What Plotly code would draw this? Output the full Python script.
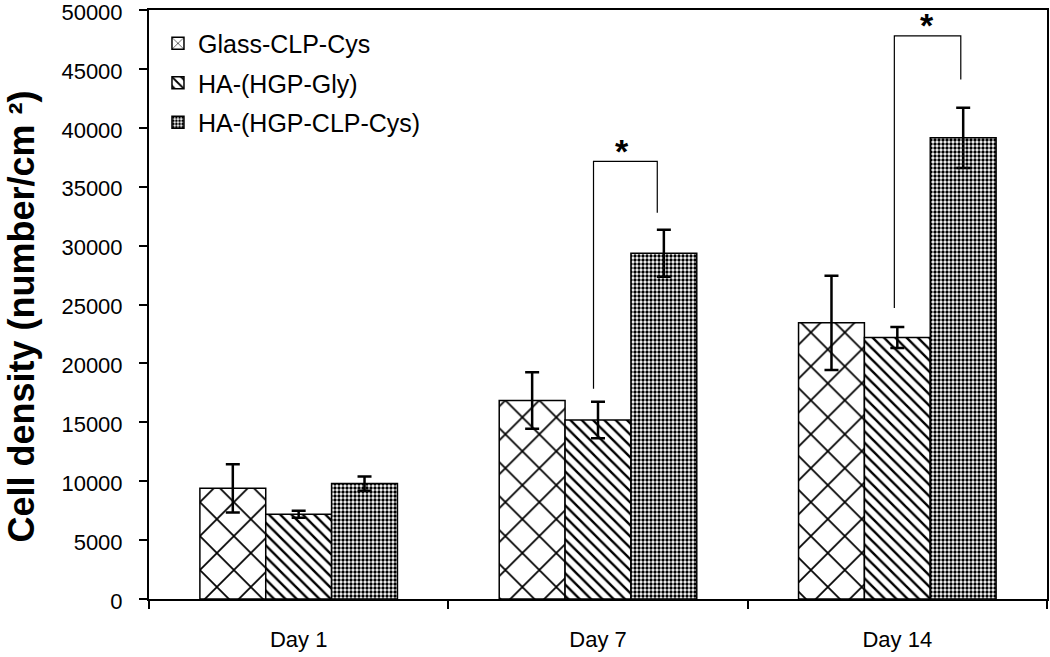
import plotly.graph_objects as go

categories = ["Day 1", "Day 7", "Day 14"]
series_names = ["Glass-CLP-Cys", "HA-(HGP-Gly)", "HA-(HGP-CLP-Cys)"]
glass_vals = [9400, 16850, 23450]
glass_err = [2050, 2400, 4000]
gly_vals = [7200, 15200, 22200]
gly_err = [300, 1550, 900]
clp_vals = [9800, 29350, 39150]
clp_err = [600, 2000, 2550]
y_ticks = [0, 5000, 10000, 15000, 20000, 25000, 30000, 35000, 40000, 45000, 50000]

# significance brackets: (x_left, x_right, y_left_bottom, y_top, y_right_bottom, star_x, star_y)
brackets = [
    (0.985, 1.198, 17850, 37150, 32800, 1.08, 38000),
    (1.990, 2.212, 24700, 47800, 44100, 2.10, 48700),
]

patterns = [
    dict(shape="x", size=24, solidity=0.14, fgcolor="black", bgcolor="white", fgopacity=1),
    dict(shape="\\", size=8, solidity=0.3, fgcolor="black", bgcolor="white", fgopacity=1),
    dict(shape=".", size=4, solidity=0.55, fgcolor="black", bgcolor="white", fgopacity=1),
]

fig = go.Figure()
for i, (name, vals, errs) in enumerate(zip(series_names,
                                           [glass_vals, gly_vals, clp_vals],
                                           [glass_err, gly_err, clp_err])):
    fig.add_trace(go.Bar(
        x=categories, y=vals, name=name,
        legendgroup=f"g{i}",
        marker=dict(color="white", line=dict(color="black", width=1.5),
                    pattern=patterns[i]),
        error_y=dict(type="data", array=errs, color="black", thickness=2.5, width=7),
    ))

for (xl, xr, yl, yt, yr, sx, sy) in brackets:
    fig.add_shape(type="path",
                  path=f"M {xl} {yl} L {xl} {yt} L {xr} {yt} L {xr} {yr}",
                  xref="x", yref="y", line=dict(color="black", width=1.2))
    fig.add_annotation(x=sx, y=sy, xref="x", yref="y", text="<b>*</b>",
                       showarrow=False, font=dict(size=34, color="black",
                                                  family="Liberation Sans"),
                       yanchor="middle")

fig.add_annotation(x=0, y=0.5, xref="paper", yref="paper", xanchor="center",
                   yanchor="middle", xshift=-128, yshift=-12, textangle=-90,
                   text="<b>Cell density (number/cm ²)</b>", showarrow=False,
                   font=dict(size=36, color="black", family="Liberation Sans"))

fig.update_layout(
    width=1050, height=657,
    margin=dict(l=149, r=3, t=10, b=58),
    paper_bgcolor="white", plot_bgcolor="white",
    barmode="group", bargap=0.34, bargroupgap=0,
    font=dict(family="Liberation Sans", color="black"),
    legend=dict(x=0.01, y=0.982, xanchor="left", yanchor="top",
                font=dict(size=25), bgcolor="rgba(0,0,0,0)",
                traceorder="grouped", tracegroupgap=4),
    showlegend=True,
)
fig.update_xaxes(showline=True, linecolor="black", linewidth=2, mirror=True,
                 ticks="outside", ticklen=8, tickwidth=1.5, tickcolor="black",
                 tickson="boundaries", tickfont=dict(size=22), showgrid=False,
                 ticklabelstandoff=20, automargin=False)
fig.update_yaxes(range=[0, 50005], tickmode="array", tickvals=y_ticks,
                 ticktext=[str(v) for v in y_ticks], showline=True,
                 linecolor="black", linewidth=2, mirror=True, ticks="outside",
                 ticklen=8, tickwidth=1.5, tickcolor="black",
                 tickfont=dict(size=22), showgrid=False, zeroline=False,
                 ticklabelstandoff=12, ticklabelshift=2,
                 ticklabeloverflow="allow", automargin=False)

# remove the default page margin so the figure fills the 1050x657 window
fig.write_html("out.html", config={"displayModeBar": False},
               post_script="document.body.style.margin='0px';")
